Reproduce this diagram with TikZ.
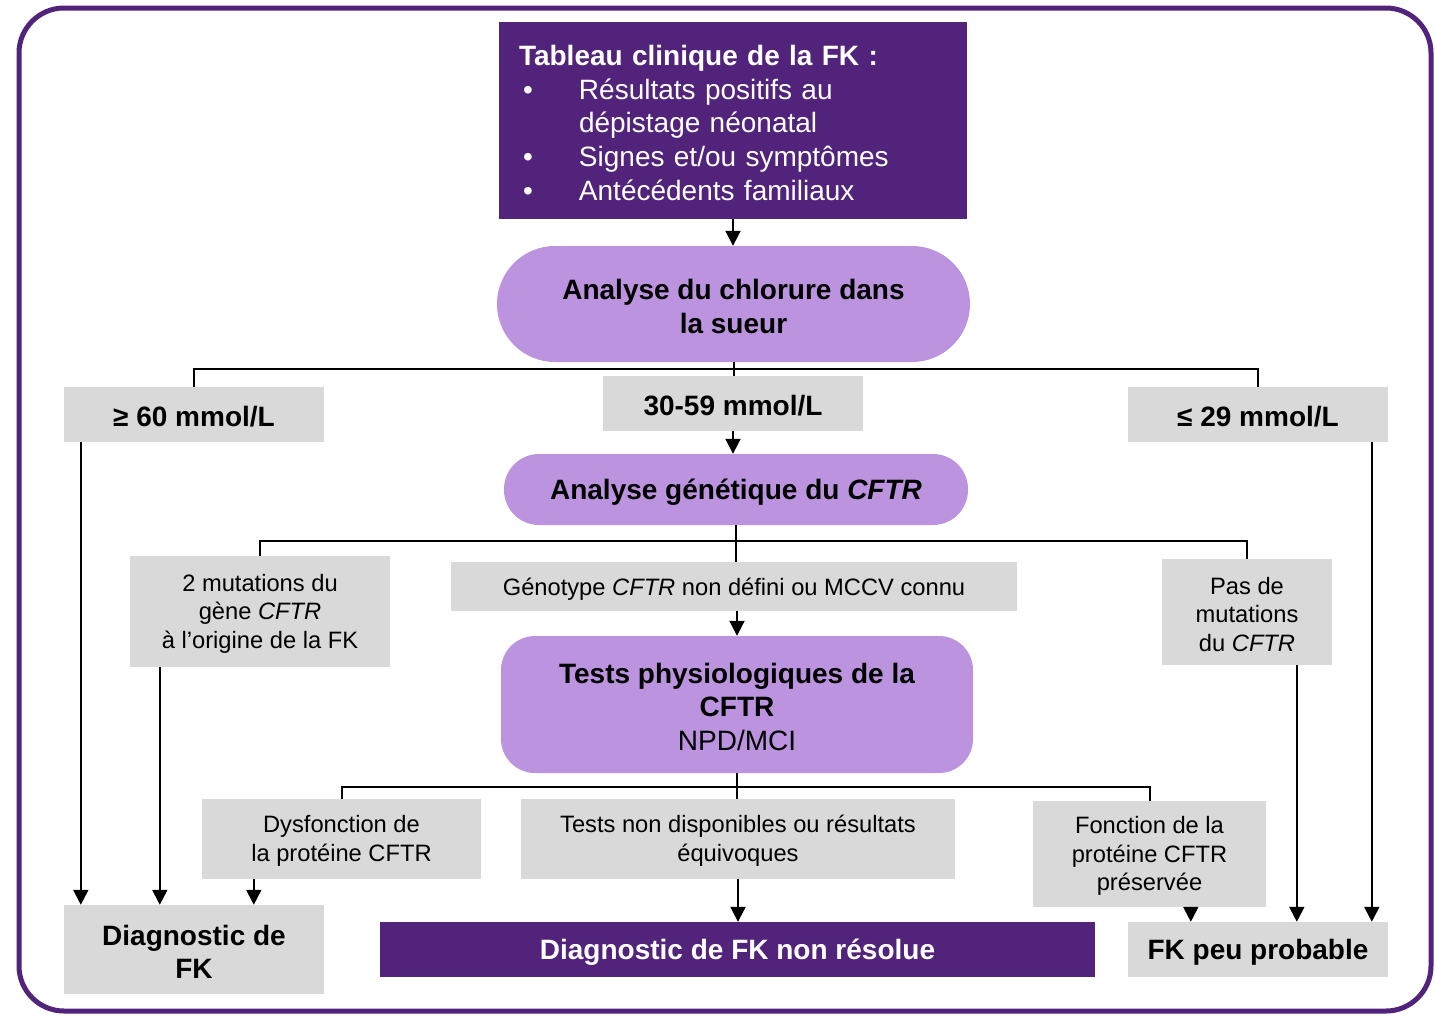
\documentclass[tikz,border=0pt]{standalone}
\usepackage{fontspec}
\setmainfont{Liberation Sans}
\usepackage{xcolor}
\usetikzlibrary{arrows.meta, positioning, calc}
\definecolor{fkpurple}{HTML}{51237A}
\definecolor{fklilac}{HTML}{BB93DF}
\definecolor{fkgray}{HTML}{D9D9D9}
\newcommand{\lift}{\rule{0pt}{0.9em}}
\tikzstyle{arrow} = [line width=2pt, -{Triangle[width=15pt,length=15pt]}]
\tikzstyle{branch} = [line width=2pt]
\tikzset{
  bigtxt/.style={font=\fontsize{28}{33.6}\selectfont\bfseries},
  smalltxt/.style={font=\fontsize{23.7}{28.5}\selectfont},
  graybox/.style={rectangle, fill=fkgray},
  lilacbox/.style={rectangle, fill=fklilac, bigtxt},
  darkbox/.style={rectangle, fill=fkpurple, text=white}
}
\begin{document}
\begin{tikzpicture}[x=1pt, y=-1pt, every node/.style={inner sep=0pt, align=center}]
\useasboundingbox (0,0) rectangle (1435,1015);
\draw[fkpurple, line width=5pt, rounded corners=45] (19,8) rectangle (1431,1011);

% Nodes
\node (clinique) [darkbox, minimum width=468, minimum height=197, text width=428, align=left, font=\fontsize{28}{33.6}\selectfont] at (733,120.5)
  {{\bfseries\lift Tableau clinique de la FK :}\\
   \hspace*{4pt}\makebox[56pt][l]{\textbullet}Résultats positifs au\\
   \hspace*{60pt}dépistage néonatal\\
   \hspace*{4pt}\makebox[56pt][l]{\textbullet}Signes et/ou symptômes\\
   \hspace*{4pt}\makebox[56pt][l]{\textbullet}Antécédents familiaux};
\node (chlorure) [lilacbox, rounded corners=58, minimum width=473, minimum height=116] at (733.5,304) {\lift Analyse du chlorure dans\\la sueur};
\node (sup60) [graybox, bigtxt, minimum width=260, minimum height=55] at (194,414.5) {\lift ≥ 60 mmol/L};
\node (mid) [graybox, bigtxt, minimum width=260, minimum height=55] at (733,403.5) {\lift 30-59 mmol/L};
\node (inf29) [graybox, bigtxt, minimum width=260, minimum height=55] at (1258,414.5) {\lift ≤ 29 mmol/L};
\node (genetique) [lilacbox, rounded corners=35, minimum width=464, minimum height=71] at (736,489.5) {\lift Analyse génétique du \textit{CFTR}};
\node (deuxmut) [graybox, smalltxt, minimum width=260, minimum height=111] at (260,611.5) {\lift 2 mutations du\\gène \textit{CFTR}\\à l’origine de la FK};
\node (genotype) [graybox, smalltxt, minimum width=566, minimum height=49] at (734,586.5) {\rule{0pt}{1em}Génotype \textit{CFTR} non défini ou MCCV connu};
\node (pasmut) [graybox, smalltxt, minimum width=170, minimum height=106] at (1247,612) {\lift Pas de\\mutations\\du \textit{CFTR}};
\node (tests) [lilacbox, rounded corners=34, minimum width=472, minimum height=137] at (737,704.5) {\lift Tests physiologiques de la\\CFTR\\{\mdseries NPD/MCI}};
\node (dysf) [graybox, smalltxt, minimum width=279, minimum height=80] at (341.5,839) {\lift Dysfonction de\\la protéine CFTR};
\node (nondispo) [graybox, smalltxt, minimum width=434, minimum height=80] at (738,839) {\lift Tests non disponibles ou résultats\\équivoques};
\node (fonction) [graybox, smalltxt, minimum width=233, minimum height=106] at (1149.5,854) {\lift Fonction de la\\protéine CFTR\\préservée};
\node (diagfk) [graybox, bigtxt, minimum width=260, minimum height=89] at (194,949.5) {\lift Diagnostic de\\FK};
\node (nonres) [darkbox, bigtxt, minimum width=715, minimum height=55] at (737.5,949.5) {\lift Diagnostic de FK non résolue};
\node (peuprob) [graybox, bigtxt, minimum width=260, minimum height=55] at (1258,949.5) {\lift FK peu probable};

% Edges
\draw [arrow] (clinique.south) -- (clinique.south |- chlorure.north);
\draw [branch] (sup60.north) -- ++(0,-18) -| (inf29.north);
\draw [branch] (chlorure.south) -- (chlorure.south |- mid.north);
\draw [arrow] (mid.south) -- (mid.south |- genetique.north);
\draw [branch] (deuxmut.north) -- ++(0,-15) -| (pasmut.north);
\draw [branch] (genetique.south) -- (genetique.south |- genotype.north);
\draw [arrow] (genotype.south -| tests.north) -- (tests.north);
\draw [branch] (dysf.north) -- ++(0,-12) -| (fonction.north);
\draw [branch] (tests.south) -- (tests.south |- nondispo.north);
\draw [arrow] (nondispo.south) -- (nondispo.south |- nonres.north);
\coordinate (fromsup) at ($(sup60.south west)+(17,0)$);
\coordinate (fromdeux) at ($(deuxmut.south west)+(30,0)$);
\coordinate (fromdysf) at ($(dysf.south west)+(52,0)$);
\coordinate (fromfonc) at ($(fonction.south west)+(158,0)$);
\coordinate (frompas) at ($(pasmut.south west)+(135,0)$);
\coordinate (frominf) at ($(inf29.south west)+(244,0)$);
\draw [arrow] (fromsup) -- (fromsup |- diagfk.north);
\draw [arrow] (fromdeux) -- (fromdeux |- diagfk.north);
\draw [arrow] (fromdysf) -- (fromdysf |- diagfk.north);
\draw [arrow] (fromfonc) -- (fromfonc |- peuprob.north);
\draw [arrow] (frompas) -- (frompas |- peuprob.north);
\draw [arrow] (frominf) -- (frominf |- peuprob.north);
\end{tikzpicture}
\end{document}
